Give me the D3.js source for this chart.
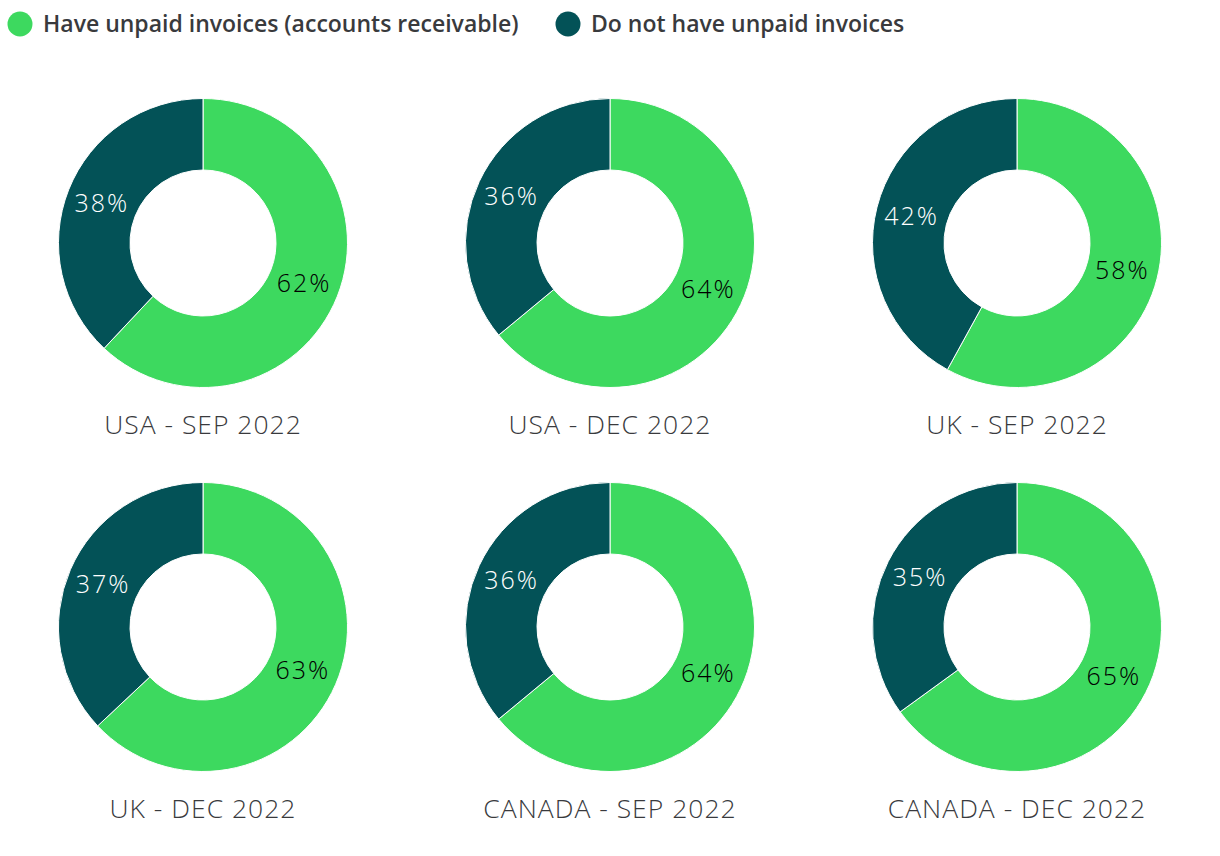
<!DOCTYPE html>
<html>
<head>
<meta charset="utf-8">
<script src="https://cdn.jsdelivr.net/npm/d3@7"></script>
<style>
  body { margin: 0; background: #fff; }
  svg text { font-family: "Open Sans", Lato, sans-serif; }
</style>
</head>
<body>
<div id="chart"></div>
<script>
const width = 1220;
const height = 856;

// legend / series
const seriesNames = ["Have unpaid invoices (accounts receivable)", "Do not have unpaid invoices"];
const seriesColours = ["#3dd95f", "#035257"];

// one donut per panel
const panelTitles = ["USA - SEP 2022", "USA - DEC 2022", "UK - SEP 2022",
                     "UK - DEC 2022", "CANADA - SEP 2022", "CANADA - DEC 2022"];
const haveUnpaid = [62, 64, 58, 63, 64, 65];
const noUnpaid = [38, 36, 42, 37, 36, 35];

// layout
const colX = [203, 610, 1017];
const rowY = [243, 627];
const outerR = 144.5;
const innerR = 73;

const svg = d3.select("#chart")
  .append("svg")
  .attr("width", width)
  .attr("height", height);

// legend
const legendX = [20, 568];
const legend = svg.selectAll(".legend")
  .data(seriesNames)
  .enter()
  .append("g")
  .attr("class", "legend")
  .attr("transform", (d, i) => `translate(${legendX[i]},24)`);

legend.append("circle")
  .attr("r", 12.5)
  .attr("fill", (d, i) => seriesColours[i]);

legend.append("text")
  .attr("x", 23)
  .attr("dy", "0.35em")
  .style("font-size", "23px")
  .style("font-weight", 600)
  .attr("fill", "#393a3d")
  .text(d => d);

const pie = d3.pie().sort(null).value(d => d.value);
const arc = d3.arc().innerRadius(innerR).outerRadius(outerR);

panelTitles.forEach((title, i) => {
  const cx = colX[i % 3];
  const cy = rowY[Math.floor(i / 3)];
  const slices = [
    { key: 0, value: haveUnpaid[i] },
    { key: 1, value: noUnpaid[i] }
  ];
  const g = svg.append("g").attr("transform", `translate(${cx},${cy})`);

  g.selectAll("path")
    .data(pie(slices))
    .enter()
    .append("path")
    .attr("d", arc)
    .attr("fill", d => seriesColours[d.data.key])
    .attr("stroke", "#fff")
    .attr("stroke-width", 1);

  g.selectAll(".label")
    .data(pie(slices))
    .enter()
    .append("text")
    .attr("class", "label")
    .attr("transform", d => `translate(${arc.centroid(d)})`)
    .attr("text-anchor", "middle")
    .attr("dy", "0.35em")
    .style("font-size", "25px")
    .style("font-weight", 300)
    .style("letter-spacing", "2px")
    .attr("fill", d => d.data.key === 0 ? "#000" : "#fff")
    .text(d => d.data.value + "%");

  g.append("text")
    .attr("y", outerR + 46)
    .attr("text-anchor", "middle")
    .style("font-size", "26.5px")
    .style("font-weight", 300)
    .style("letter-spacing", "1px")
    .attr("fill", "#393a3d")
    .text(title);
});
</script>
</body>
</html>
